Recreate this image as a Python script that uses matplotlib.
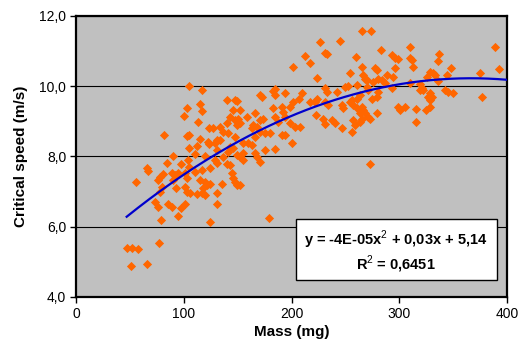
import numpy as np
import matplotlib
matplotlib.use('Agg')
import matplotlib.pyplot as plt
from matplotlib.ticker import FuncFormatter, MultipleLocator
from matplotlib.patches import Rectangle

# body mass (mg) and critical speed (m/s)
mass = [
    90.3, 110.4, 119.7, 103.9, 84.2, 97.4, 65.6, 67.1, 116.6, 124.4,
    130.6, 129.0, 88.8, 94.9, 91.9, 101.2, 81.0, 55.7, 78.0, 76.4,
    102.7, 90.3, 115.1, 119.7, 124.4, 121.3, 79.5, 78.0, 92.8, 101.2,
    102.7, 105.8, 117.9, 116.6, 112.0, 119.7, 130.6, 73.3, 76.4, 85.7,
    88.8, 101.2, 97.4, 130.6, 94.9, 78.9, 124.4, 77.0, 47.0, 51.7,
    57.8, 50.8, 66.2, 104.7, 110.0, 105.1, 116.6, 115.1, 103.3, 116.6,
    100.5, 113.0, 81.9, 102.7, 105.1, 123.7, 127.4, 115.1, 122.8, 123.7,
    130.6, 105.1, 112.0, 130.6, 226.4, 245.0, 231.1, 232.6, 212.5, 217.2,
    259.8, 201.7, 223.9, 254.3, 184.7, 183.1, 184.7, 194.0, 170.7, 172.3,
    139.9, 147.6, 149.1, 209.4, 207.2, 201.7, 217.2, 231.1, 232.6, 241.9,
    249.6, 252.7, 260.5, 223.4, 221.8, 231.1, 234.2, 246.6, 248.1, 255.9,
    257.4, 146.0, 152.2, 166.1, 183.1, 190.9, 192.4, 194.0, 198.6, 142.9,
    147.6, 150.6, 152.2, 149.1, 158.4, 170.7, 173.8, 187.7, 198.6, 203.2,
    207.9, 222.7, 229.5, 231.1, 237.3, 240.4, 246.6, 257.4, 258.9, 133.6,
    139.9, 136.7, 141.3, 147.6, 164.5, 163.1, 167.7, 170.7, 175.4, 180.0,
    190.9, 194.0, 200.2, 166.1, 133.6, 129.0, 155.3, 159.9, 163.1, 142.9,
    146.0, 175.4, 184.7, 155.3, 152.2, 149.1, 167.7, 136.7, 141.3, 155.3,
    166.1, 170.7, 139.9, 142.9, 144.5, 146.0, 147.6, 149.1, 152.2, 135.2,
    179.4, 184.7, 272.8, 265.2, 273.5, 310.0, 388.9, 282.8, 293.0, 296.0,
    299.1, 310.0, 311.5, 337.2, 336.3, 265.2, 277.5, 279.1, 296.0, 312.4,
    347.7, 392.8, 374.9, 266.6, 268.2, 269.8, 328.5, 331.6, 333.2, 344.0,
    280.6, 283.7, 288.3, 294.5, 275.9, 286.8, 325.4, 336.2, 310.0, 319.3,
    269.8, 271.3, 293.0, 280.6, 320.8, 322.3, 319.3, 342.4, 345.5, 350.2,
    328.5, 330.1, 327.0, 328.5, 376.5, 263.6, 260.5, 254.3, 274.4, 279.1,
    260.5, 265.2, 266.6, 263.6, 268.2, 265.2, 263.6, 271.3, 272.8, 279.1,
    255.9, 299.1, 300.7, 305.3, 315.5, 324.8, 328.5, 315.5,
]
speed = [
    8.01, 8.07, 8.01, 7.90, 7.82, 7.78, 7.66, 7.59, 7.61, 7.67,
    7.81, 7.90, 7.53, 7.52, 7.47, 7.53, 7.50, 7.26, 7.42, 7.33,
    7.38, 7.33, 7.33, 7.28, 7.23, 7.18, 7.14, 6.99, 7.09, 7.14,
    6.99, 6.95, 7.10, 6.95, 6.93, 6.90, 6.95, 6.71, 6.57, 6.66,
    6.57, 6.66, 6.52, 6.66, 6.30, 6.19, 6.14, 5.55, 5.40, 5.40,
    5.36, 4.88, 4.95, 7.69, 7.56, 10.01, 9.89, 9.49, 9.39, 9.30,
    9.15, 8.99, 8.61, 8.59, 8.62, 8.82, 8.82, 8.49, 8.42, 8.35,
    8.47, 8.23, 8.30, 8.18, 11.25, 11.30, 10.95, 10.92, 10.87, 10.65,
    10.84, 10.56, 10.24, 10.37, 9.91, 9.86, 9.75, 9.81, 9.75, 9.68,
    9.61, 9.61, 9.59, 9.80, 9.65, 9.56, 9.56, 9.96, 9.84, 9.84,
    9.97, 10.00, 10.03, 9.65, 9.56, 9.56, 9.46, 9.46, 9.37, 9.61,
    9.46, 9.32, 9.32, 9.23, 9.37, 9.42, 9.27, 9.13, 9.42, 9.13,
    9.04, 9.08, 8.94, 8.89, 9.13, 9.04, 9.08, 8.99, 8.94, 8.85,
    8.85, 9.18, 9.08, 8.92, 9.04, 8.94, 8.80, 9.04, 8.89, 8.85,
    8.94, 8.70, 8.66, 8.56, 8.89, 8.80, 8.85, 8.70, 8.66, 8.66,
    8.61, 8.61, 8.37, 8.56, 8.47, 8.37, 8.37, 8.37, 8.32, 8.28,
    8.23, 8.18, 8.20, 8.09, 7.99, 8.04, 7.99, 7.99, 8.13, 7.90,
    8.09, 7.85, 7.80, 7.75, 7.52, 7.38, 7.28, 7.19, 7.19, 7.23,
    6.25, 9.13, 7.78, 11.58, 11.58, 11.11, 11.13, 11.03, 10.89, 10.79,
    10.77, 10.79, 10.75, 10.91, 10.73, 10.56, 10.51, 10.46, 10.51, 10.56,
    10.53, 10.49, 10.38, 10.32, 10.22, 10.18, 10.41, 10.37, 10.32, 10.32,
    10.22, 10.18, 10.32, 10.27, 10.13, 10.08, 10.27, 10.16, 10.08, 10.06,
    9.99, 9.89, 9.94, 9.84, 9.94, 9.89, 9.89, 9.89, 9.84, 9.81,
    9.80, 9.68, 9.68, 9.61, 9.68, 9.75, 9.65, 9.56, 9.63, 9.68,
    9.37, 9.42, 9.32, 9.23, 9.23, 9.08, 8.99, 9.13, 9.08, 9.23,
    8.70, 9.42, 9.32, 9.42, 9.35, 9.32, 9.42, 8.99,
]

# trend line as drawn on the chart (a, b, c of a*x^2 + b*x + c)
trend_coef = [-3.86e-5, 0.0283, 5.04]
trend_range = [47, 400]

eq_text = 'y = -4E-05x$^2$ + 0,03x + 5,14'
r2_text = 'R$^2$ = 0,6451'

plt.rcParams['font.family'] = ['Liberation Sans', 'DejaVu Sans']
plt.rcParams['mathtext.fontset'] = 'custom'
plt.rcParams['mathtext.rm'] = 'Liberation Sans'
plt.rcParams['mathtext.bf'] = 'Liberation Sans:bold'

fig = plt.figure(figsize=(5.25, 3.61), dpi=100)
ax = fig.add_axes([0.1448, 0.1773, 0.821, 0.7784])
ax.set_facecolor('#C0C0C0')

ax.scatter(mass, speed, marker='D', s=22, color='#FF6600', linewidths=0, zorder=3)

xs = np.linspace(trend_range[0], trend_range[1], 200)
ax.plot(xs, np.polyval(trend_coef, xs), color='#0000CC', lw=1.6, zorder=4)

ax.set_xlim(0, 400)
ax.set_ylim(4, 12)
ax.xaxis.set_major_locator(MultipleLocator(100))
ax.yaxis.set_major_locator(MultipleLocator(2))
ax.yaxis.set_major_formatter(FuncFormatter(lambda v, p: ('%.1f' % v).replace('.', ',')))
ax.grid(axis='y', color='black', lw=0.8)
ax.set_axisbelow(True)
for s in ax.spines.values():
    s.set_linewidth(1.6)
    s.set_color('black')
ax.tick_params(direction='out', length=4, width=1, labelsize=10, pad=3)

ax.set_xlabel('Mass (mg)', fontsize=11, fontweight='bold', labelpad=3)
ax.set_ylabel('Critical speed (m/s)', fontsize=11, fontweight='bold', labelpad=8)

# equation box
ax.add_patch(Rectangle((0.51, 0.06), 0.467, 0.218, transform=ax.transAxes,
                       facecolor='white', edgecolor='black', lw=1, zorder=5))
ax.text(0.742, 0.203, eq_text, transform=ax.transAxes, ha='center', va='center',
        fontsize=10.5, fontweight='bold', zorder=6)
ax.text(0.742, 0.117, r2_text, transform=ax.transAxes, ha='center', va='center',
        fontsize=10.5, fontweight='bold', zorder=6)

fig.savefig('out.png', dpi=100)
